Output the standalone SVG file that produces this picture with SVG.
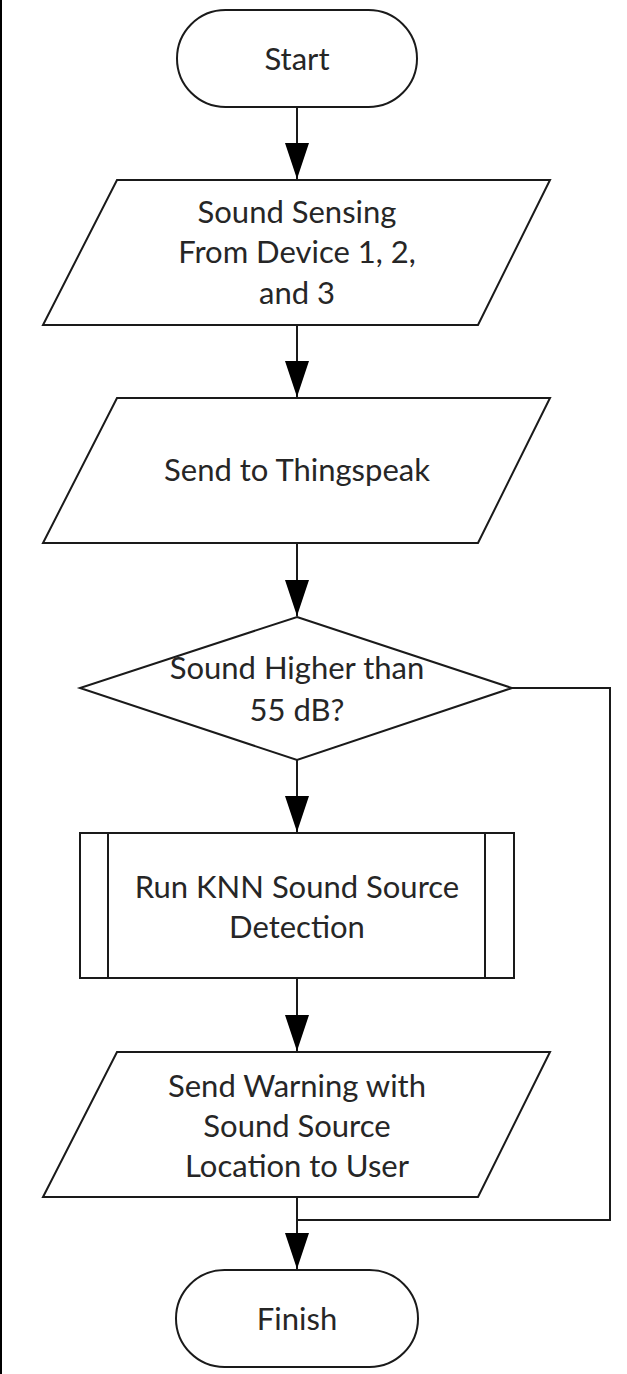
<svg xmlns="http://www.w3.org/2000/svg" width="627" height="1374" viewBox="0 0 627 1374">
<style>
.shape{fill:#fff;stroke:#1a1a1a;stroke-width:2}
.line{fill:none;stroke:#1a1a1a;stroke-width:2}
.flow{fill:none;stroke:#1a1a1a;stroke-width:2;marker-end:url(#arr)}
.lbl{font-family:Lato,"Open Sans",sans-serif;font-size:31px;fill:#262626;text-anchor:middle}
</style>
<defs>
<marker id="arr" viewBox="0 0 36 24" refX="36" refY="12" markerWidth="36" markerHeight="24" markerUnits="userSpaceOnUse" orient="auto">
<path d="M0,0 L36,12 L0,24 Z" fill="#000"/>
</marker>
</defs>
<rect x="0" y="0" width="627" height="1374" fill="#fff"/>
<rect x="0" y="0" width="2" height="1374" fill="#000"/>
<g id="connectors">
<line class="flow" x1="297" y1="107" x2="297" y2="179"/>
<line class="flow" x1="297" y1="325" x2="297" y2="397"/>
<line class="flow" x1="297" y1="543" x2="297" y2="616"/>
<line class="flow" x1="297" y1="760" x2="297" y2="832"/>
<line class="flow" x1="297" y1="978" x2="297" y2="1051"/>
<line class="flow" x1="297" y1="1197" x2="297" y2="1269"/>
<polyline class="line" points="512,688 610,688 610,1220 297,1220"/>
</g>
<g id="start">
<rect class="shape" x="177" y="10" width="240" height="97" rx="48.5" ry="48.5"/>
<text class="lbl" x="297" y="70">Start</text>
</g>
<g id="sensing">
<polygon class="shape" points="117,180 550,180 478,325 43,325"/>
<text class="lbl" x="297" y="223">Sound Sensing</text>
<text class="lbl" x="297" y="263">From Device 1, 2,</text>
<text class="lbl" x="297" y="304">and 3</text>
</g>
<g id="send">
<polygon class="shape" points="117,398 550,398 478,543 43,543"/>
<text class="lbl" x="297" y="481">Send to Thingspeak</text>
</g>
<g id="decision">
<polygon class="shape" points="297,617 512,688 297,760 80,688"/>
<text class="lbl" x="297" y="679">Sound Higher than</text>
<text class="lbl" x="297" y="721">55 dB?</text>
</g>
<g id="knn">
<rect class="shape" x="80" y="833" width="434" height="145"/>
<line class="line" x1="108" y1="833" x2="108" y2="978"/>
<line class="line" x1="485" y1="833" x2="485" y2="978"/>
<text class="lbl" x="297" y="898">Run KNN Sound Source</text>
<text class="lbl" x="297" y="938">Detection</text>
</g>
<g id="warning">
<polygon class="shape" points="117,1052 550,1052 478,1197 43,1197"/>
<text class="lbl" x="297" y="1097">Send Warning with</text>
<text class="lbl" x="297" y="1137">Sound Source</text>
<text class="lbl" x="297" y="1177">Location to User</text>
</g>
<g id="finish">
<rect class="shape" x="176" y="1270" width="242" height="97" rx="48.5" ry="48.5"/>
<text class="lbl" x="297" y="1330">Finish</text>
</g>
</svg>
